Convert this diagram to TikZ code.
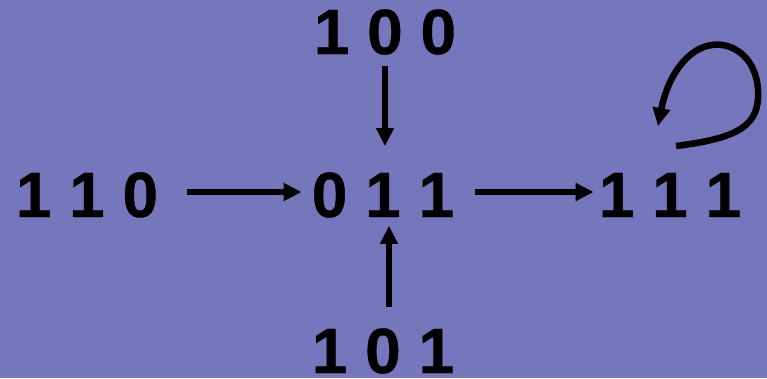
\documentclass[tikz,border=0pt]{standalone}
\usepackage{fontspec}
\setmainfont{Liberation Sans}
\newfontfamily\lblfont{Liberation Sans}[BoldFeatures={FakeBold=0.6}]
\usetikzlibrary{arrows.meta}
\definecolor{bgcol}{RGB}{118,118,188}
\begin{document}
\begin{tikzpicture}[x=1pt,y=-1pt,
  lbl/.style={inner sep=0pt,anchor=base,font=\fontsize{64}{70}\lblfont\bfseries},
  arr/.style={line width=6.5pt,-{Triangle[length=18pt,width=17pt]}}]
\fill[bgcol] (0,0) rectangle (767,378);
\useasboundingbox (0,0) rectangle (767,378);
\node[lbl] (a110) at (87,217) {1 1 0};
\node[lbl] (a011) at (383,217) {0 1 1};
\node[lbl] (a111) at (670,217) {1 1 1};
\node[lbl] (a100) at (385,54) {1 0 0};
\node[lbl] (a101) at (383,373) {1 0 1};
\coordinate (y1) at (0,192);
\draw[arr] (a110.east |- y1) ++(29,0) -- ([xshift=-10pt]a011.west |- y1);
\draw[arr] (a011.east |- y1) ++(21,0) -- ([xshift=-5pt]a111.west |- y1);
\draw[arr] ([yshift=-11pt]a100.south) -- ([xshift=2pt,yshift=26pt]a011.north);
\draw[arr] ([xshift=6pt,yshift=21pt]a101.north) -- ([xshift=6pt,yshift=-8pt]a011.south);
\coordinate (ls) at (676,146);
\draw[arr] (ls) .. controls (740,138) and (760,125) .. (758,90) .. controls (756,55) and (730,42) .. (712,45) .. controls (688,48) and (668,75) .. (658,126);
\end{tikzpicture}
\end{document}
